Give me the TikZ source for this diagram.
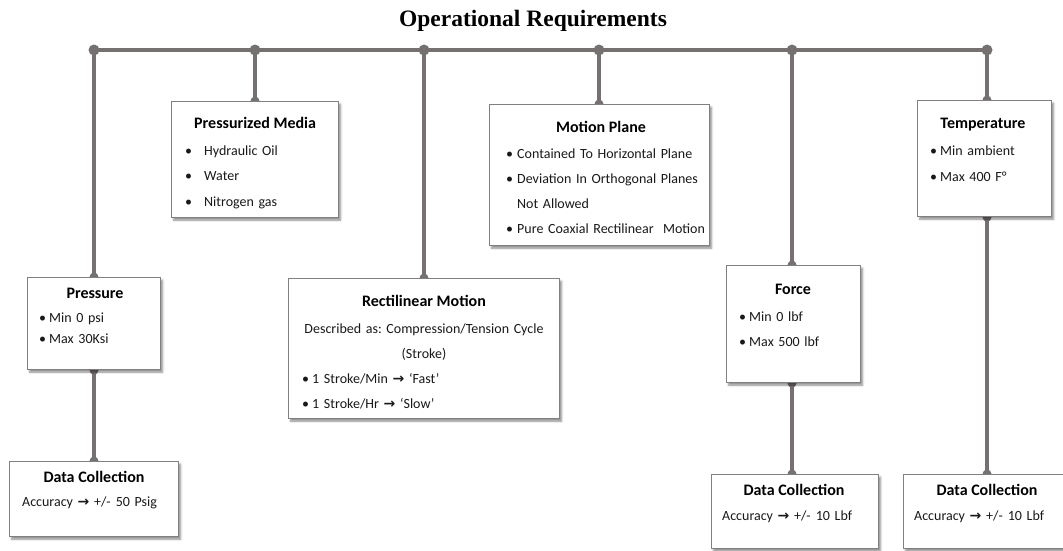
\documentclass[tikz,border=0pt]{standalone}
\usepackage{fontspec}
\setmainfont{Carlito}
\newfontfamily\headfont{Liberation Serif}
\newfontfamily\arrowfont{DejaVu Sans}
\usetikzlibrary{shadows.blur}
\pgfdeclarelayer{background}
\pgfsetlayers{background,main}
\frenchspacing
\definecolor{linkgray}{RGB}{118,113,113}
\definecolor{framegray}{RGB}{128,128,128}
\definecolor{inkgray}{RGB}{25,25,25}
% heavy arrow used in the accuracy and stroke lines
\newcommand{\ra}{{\arrowfont\bfseries\fontsize{14}{14}\selectfont →}}
% bullet followed by a fixed gap
\newcommand{\bul}[1][10pt]{\makebox[#1][l]{•}}

\begin{document}
\begin{tikzpicture}[x=1pt,y=-1pt,
  box/.style={draw=framegray, line width=1.2pt, fill=white, inner sep=0pt,
    anchor=north west,
    blur shadow={shadow xshift=2pt, shadow yshift=-2.5pt,
      shadow blur radius=2pt, shadow opacity=45}},
  head/.style={anchor=base, inner sep=0pt,
    font=\fontsize{16}{19}\selectfont\bfseries, text=black},
  body/.style={anchor=base west, inner sep=0pt, align=left, text=inkgray,
    text width=#1},
  body/.default=200pt,
  link/.style={draw=linkgray, line width=4pt},
  knot/.style={fill=linkgray},
]
\useasboundingbox (0,0) rectangle (1063,550);

% heading
\node[anchor=base, inner sep=0pt] (title) at (533,26)
  {\headfont\bfseries\fontsize{23.5}{28}\selectfont Operational Requirements};

% bus junctions
\coordinate (b1) at (94,50);
\coordinate (b2) at (255,50);
\coordinate (b3) at (424,50);
\coordinate (b4) at (599,50);
\coordinate (b5) at (792,50);
\coordinate (b6) at (987,50);

% boxes
\node[box, minimum width=167, minimum height=116] (pm) at (171,101) {};
\node[box, minimum width=220, minimum height=141] (mp) at (489,104) {};
\node[box, minimum width=134, minimum height=116] (te) at (917,100) {};
\node[box, minimum width=133, minimum height=92]  (pr) at (27,277) {};
\node[box, minimum width=271, minimum height=140] (rm) at (288,278) {};
\node[box, minimum width=134, minimum height=117] (fo) at (726,265) {};
\node[box, minimum width=169, minimum height=75]  (dc1) at (9,461) {};
\node[box, minimum width=167, minimum height=74]  (dc2) at (711,474) {};
\node[box, minimum width=169, minimum height=74]  (dc3) at (903,474) {};

% Pressurized Media
\node[head] (pmH) at (pm.north |- 0,128) {Pressurized Media};
\node[body, font=\fontsize{14}{25.5}\selectfont] (pmB) at (185,155)
  {\bul[19pt]Hydraulic Oil\\ \bul[19pt]Water\\ \bul[19pt]Nitrogen gas};

% Motion Plane
\node[head] (mpH) at (601,132) {Motion Plane};
\node[body, font=\fontsize{14}{25.3}\selectfont] (mpB) at (506,158)
  {\bul[11pt]Contained To Horizontal Plane\\
   \bul[11pt]Deviation In Orthogonal Planes\\
   \hspace*{11pt}Not Allowed\\
   \bul[11pt]Pure Coaxial Rectilinear\ \ Motion};

% Temperature
\node[head] (teH) at (983,128) {Temperature};
\node[body, font=\fontsize{14}{26}\selectfont] (teB) at (930,155)
  {\bul Min ambient\\ \bul Max 400 F°};

% Pressure
\node[head] (prH) at (95,298) {Pressure};
\node[body, font=\fontsize{14}{21}\selectfont] (prB) at (39,322)
  {\bul Min 0 psi\\ \bul Max 30Ksi};

% Rectilinear Motion
\node[head] (rmH) at (424,306) {Rectilinear Motion};
\node[anchor=base, inner sep=0pt, align=center, text=inkgray,
  text width=265pt, font=\fontsize{14}{25}\selectfont] (rmC) at (424,333)
  {Described as: Compression/Tension Cycle\\(Stroke)};
\node[body, font=\fontsize{14}{25}\selectfont] (rmB) at (302,383)
  {\bul 1 Stroke/Min \ra\ ‘Fast’\\ \bul 1 Stroke/Hr \ra\ ‘Slow’};

% Force
\node[head] (foH) at (793,294) {Force};
\node[body, font=\fontsize{14}{25}\selectfont] (foB) at (739,321)
  {\bul Min 0 lbf\\ \bul Max 500 lbf};

% Data collection boxes
\node[head] (dc1H) at (94,482) {Data Collection};
\node[body, font=\fontsize{14}{17}\selectfont] (dc1B) at (22,506)
  {Accuracy \ra\ +/-\hspace{5pt}50 Psig};
\node[head] (dc2H) at (794,495) {Data Collection};
\node[body, font=\fontsize{14}{17}\selectfont] (dc2B) at (722,520)
  {Accuracy \ra\ +/-\hspace{5pt}10 Lbf};
\node[head] (dc3H) at (987,495) {Data Collection};
\node[body, font=\fontsize{14}{17}\selectfont] (dc3B) at (914,520)
  {Accuracy \ra\ +/-\hspace{5pt}10 Lbf};

% connectors behind the boxes
\begin{pgfonlayer}{background}
  \draw[link] (b1) -- (b6);
  \draw[link] (b1) -- (b1 |- pr.north);
  \draw[link] (b2) -- (b2 |- pm.north);
  \draw[link] (b3) -- (b3 |- rm.north);
  \draw[link] (b4) -- (b4 |- mp.north);
  \draw[link] (b5) -- (b5 |- fo.north);
  \draw[link] (b6) -- (b6 |- te.north);
  \draw[link] (b1 |- pr.south) -- (b1 |- dc1.north);
  \draw[link] (b5 |- fo.south) -- (b5 |- dc2.north);
  \draw[link] (b6 |- te.south) -- (b6 |- dc3.north);
  \foreach \p in {b1,b2,b3,b4,b5,b6}
    \fill[knot] (\p) circle[radius=5.5];
  \foreach \p in {b1 |- pr.north, b1 |- pr.south, b1 |- dc1.north,
                  b2 |- pm.north, b3 |- rm.north, b4 |- mp.north,
                  b5 |- fo.north, b5 |- fo.south, b5 |- dc2.north,
                  b6 |- te.north, b6 |- te.south, b6 |- dc3.north}
    \fill[knot] (\p) circle[radius=4.5];
\end{pgfonlayer}
\end{tikzpicture}
\end{document}
